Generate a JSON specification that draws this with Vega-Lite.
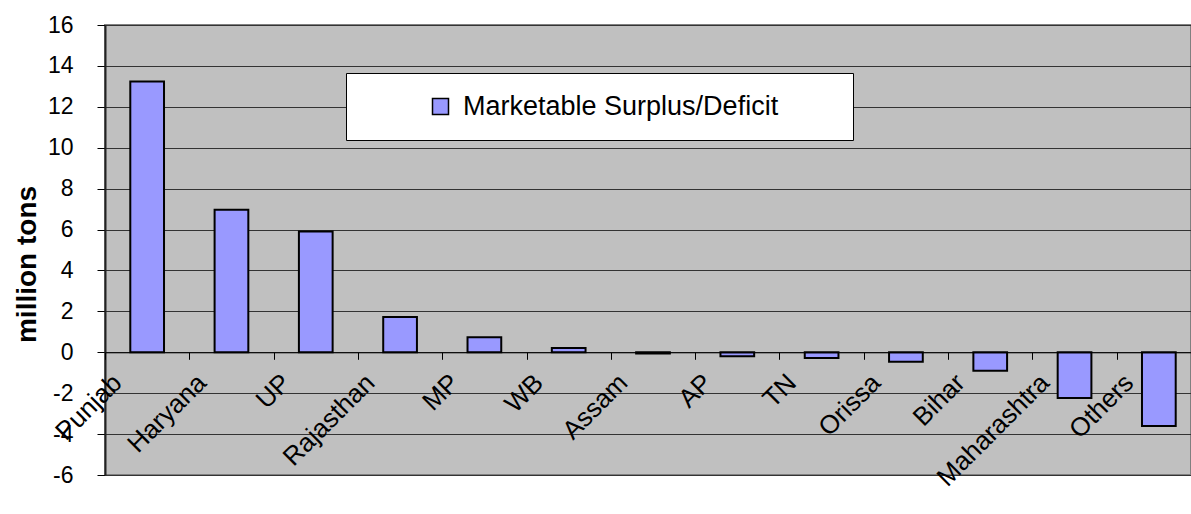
{
  "$schema": "https://vega.github.io/schema/vega-lite/v6.json",
  "autosize": {"type": "none"},
  "padding": {"left": 105, "top": 25, "right": 0, "bottom": 39},
  "width": 1086,
  "height": 450,
  "background": "white",
  "config": {
    "font": "Liberation Sans",
    "view": {"fill": "#C0C0C0", "stroke": "#808080", "strokeWidth": 2}
  },
  "data": {
    "values": [
      {"state": "Punjab", "value": 13.24, "series": "Marketable Surplus/Deficit"},
      {"state": "Haryana", "value": 6.97, "series": "Marketable Surplus/Deficit"},
      {"state": "UP", "value": 5.9, "series": "Marketable Surplus/Deficit"},
      {"state": "Rajasthan", "value": 1.73, "series": "Marketable Surplus/Deficit"},
      {"state": "MP", "value": 0.73, "series": "Marketable Surplus/Deficit"},
      {"state": "WB", "value": 0.21, "series": "Marketable Surplus/Deficit"},
      {"state": "Assam", "value": -0.06, "series": "Marketable Surplus/Deficit"},
      {"state": "AP", "value": -0.2, "series": "Marketable Surplus/Deficit"},
      {"state": "TN", "value": -0.28, "series": "Marketable Surplus/Deficit"},
      {"state": "Orissa", "value": -0.46, "series": "Marketable Surplus/Deficit"},
      {"state": "Bihar", "value": -0.9, "series": "Marketable Surplus/Deficit"},
      {"state": "Maharashtra", "value": -2.24, "series": "Marketable Surplus/Deficit"},
      {"state": "Others", "value": -3.6, "series": "Marketable Surplus/Deficit"}
    ]
  },
  "mark": {"type": "bar", "stroke": "black", "strokeWidth": 2, "opacity": 1, "width": {"band": 0.4}},
  "encoding": {
    "x": {
      "field": "state",
      "type": "nominal",
      "sort": null,
      "scale": {"range": [0, 1096], "paddingInner": 0, "paddingOuter": 0},
      "axis": {
        "title": null,
        "offset": -122.7,
        "tickBand": "extent",
        "domainColor": "black",
        "domainWidth": 1,
        "tickColor": "black",
        "tickSize": 7,
        "tickWidth": 1,
        "labelAngle": 315,
        "labelAlign": "right",
        "labelBaseline": "middle",
        "labelPadding": 19,
        "labelOffset": -30,
        "labelFontSize": 26,
        "labelColor": "black",
        "labelOverlap": false,
        "labelLimit": 0,
        "grid": false,
        "zindex": 1
      }
    },
    "y": {
      "field": "value",
      "type": "quantitative",
      "scale": {"domain": [-6, 16], "nice": false, "zero": false},
      "axis": {
        "title": "million tons",
        "titleFontSize": 28,
        "titleFontWeight": "bold",
        "titleColor": "black",
        "titlePadding": 6,
        "titleY": 239,
        "values": [-6, -4, -2, 0, 2, 4, 6, 8, 10, 12, 14, 16],
        "labelExpr": "replace(datum.label, '\u2212', '-')",
        "labelFontSize": 23,
        "labelColor": "black",
        "labelPadding": 24,
        "tickSize": 8,
        "tickColor": "black",
        "domainColor": "#222",
        "domainWidth": 2,
        "grid": true,
        "gridColor": "#333",
        "gridWidth": 1,
        "gridOpacity": 1
      }
    },
    "color": {
      "field": "series",
      "type": "nominal",
      "scale": {"range": ["#9999FF"]},
      "legend": {
        "orient": "none",
        "legendX": 241,
        "legendY": 48,
        "direction": "horizontal",
        "title": "MM",
        "titleColor": "white",
        "titleOrient": "right",
        "titlePadding": 10,
        "titleFontSize": 27,
        "fillColor": "white",
        "strokeColor": "black",
        "padding": 20,
        "symbolType": "square",
        "symbolSize": 256,
        "symbolStrokeColor": "black",
        "symbolStrokeWidth": 1.5,
        "symbolOpacity": 1,
        "symbolOffset": 61,
        "labelOffset": 9,
        "labelFontSize": 27,
        "labelColor": "black",
        "labelLimit": 0
      }
    }
  }
}
